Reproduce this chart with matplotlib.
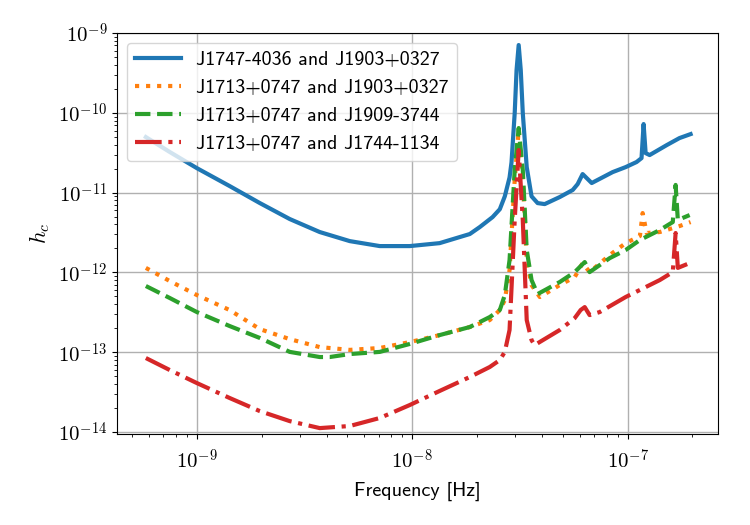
import matplotlib
matplotlib.use("Agg")
import matplotlib.pyplot as plt
from matplotlib.ticker import FuncFormatter, NullFormatter, LogLocator, FixedLocator
import numpy as np

plt.rcParams['mathtext.fontset'] = 'cm'
plt.rcParams['axes.unicode_minus'] = False

# J1747-4036 and J1903+0327
freq_a = [5.80e-10, 7.49e-10, 1.00e-9, 1.42e-9, 1.96e-9, 2.70e-9, 3.72e-9, 5.13e-9,
          7.07e-9, 9.74e-9, 1.34e-8, 1.85e-8, 2.06e-8, 2.36e-8, 2.55e-8, 2.69e-8,
          2.83e-8, 2.89e-8, 2.99e-8, 3.05e-8, 3.12e-8, 3.19e-8, 3.26e-8, 3.40e-8,
          3.58e-8, 3.82e-8, 4.12e-8, 4.84e-8, 5.56e-8, 5.86e-8, 6.18e-8, 6.81e-8,
          8.52e-8, 9.79e-8, 1.10e-7, 1.16e-7, 1.186e-7, 1.212e-7, 1.265e-7, 1.52e-7,
          1.74e-7, 1.96e-7]
hc_a = [4.97e-11, 3.23e-11, 2.03e-11, 1.21e-11, 7.41e-12, 4.67e-12, 3.21e-12, 2.47e-12,
        2.14e-12, 2.14e-12, 2.33e-12, 3.03e-12, 3.71e-12, 4.94e-12, 6.20e-12, 9.00e-12,
        1.55e-11, 2.40e-11, 9.94e-11, 3.44e-10, 7.08e-10, 3.44e-10, 9.94e-11, 2.09e-11,
        9.00e-12, 7.40e-12, 7.19e-12, 8.81e-12, 1.08e-11, 1.28e-11, 1.71e-11, 1.32e-11,
        1.81e-11, 2.09e-11, 2.42e-11, 2.71e-11, 7.24e-11, 3.13e-11, 2.96e-11, 3.95e-11,
        4.83e-11, 5.42e-11]

# J1713+0747 and J1903+0327
freq_b = [5.80e-10, 7.49e-10, 1.00e-9, 1.42e-9, 1.96e-9, 2.70e-9, 3.72e-9, 5.13e-9,
          7.07e-9, 9.74e-9, 1.34e-8, 1.85e-8, 2.29e-8, 2.55e-8, 2.69e-8, 2.83e-8,
          2.99e-8, 3.12e-8, 3.26e-8, 3.40e-8, 3.58e-8, 3.91e-8, 4.84e-8, 5.68e-8,
          6.18e-8, 6.66e-8, 8.25e-8, 9.79e-8, 1.14e-7, 1.174e-7, 1.225e-7, 1.41e-7,
          1.74e-7, 1.96e-7]
hc_b = [1.14e-12, 7.80e-13, 5.21e-13, 3.38e-13, 1.95e-13, 1.46e-13, 1.16e-13, 1.07e-13,
        1.13e-13, 1.34e-13, 1.64e-13, 2.07e-13, 2.53e-13, 3.38e-13, 4.51e-13, 1.07e-12,
        1.44e-11, 6.09e-11, 1.44e-11, 1.43e-12, 6.95e-13, 4.92e-13, 6.95e-13, 8.75e-13,
        1.31e-12, 1.01e-12, 1.65e-12, 2.33e-12, 2.86e-12, 5.55e-12, 3.12e-12, 3.21e-12,
        3.81e-12, 4.28e-12]

# J1713+0747 and J1909-3744
freq_c = [5.80e-10, 7.49e-10, 1.00e-9, 1.42e-9, 1.96e-9, 2.70e-9, 3.72e-9, 4.14e-9,
          5.13e-9, 7.07e-9, 9.74e-9, 1.34e-8, 1.85e-8, 2.29e-8, 2.55e-8, 2.69e-8,
          2.83e-8, 2.99e-8, 3.12e-8, 3.26e-8, 3.40e-8, 3.58e-8, 3.82e-8, 4.84e-8,
          5.68e-8, 6.32e-8, 6.66e-8, 8.25e-8, 9.79e-8, 1.14e-7, 1.41e-7, 1.62e-7,
          1.67e-7, 1.71e-7, 1.94e-7]
hc_c = [6.76e-13, 4.78e-13, 3.19e-13, 2.13e-13, 1.51e-13, 1.01e-13, 8.71e-14, 8.71e-14,
        9.49e-14, 1.01e-13, 1.27e-13, 1.64e-13, 2.07e-13, 2.76e-13, 3.38e-13, 5.21e-13,
        1.43e-12, 1.92e-11, 6.45e-11, 1.92e-11, 1.91e-12, 8.03e-13, 5.36e-13, 7.59e-13,
        1.01e-12, 1.35e-12, 1.01e-12, 1.51e-12, 1.91e-12, 2.55e-12, 3.40e-12, 4.28e-12,
        1.25e-11, 4.54e-12, 5.24e-12]

# J1713+0747 and J1744-1134
freq_d = [5.80e-10, 7.49e-10, 1.00e-9, 1.42e-9, 1.96e-9, 2.70e-9, 3.72e-9, 5.13e-9,
          7.07e-9, 9.74e-9, 1.34e-8, 1.85e-8, 2.29e-8, 2.55e-8, 2.69e-8, 2.83e-8,
          2.99e-8, 3.12e-8, 3.26e-8, 3.40e-8, 3.58e-8, 3.70e-8, 4.84e-8, 5.68e-8,
          6.05e-8, 6.32e-8, 6.66e-8, 7.42e-8, 9.79e-8, 1.41e-7, 1.62e-7, 1.67e-7,
          1.71e-7, 1.94e-7]
hc_d = [8.46e-14, 5.98e-14, 4.11e-14, 2.67e-14, 1.83e-14, 1.37e-14, 1.12e-14, 1.19e-14,
        1.50e-14, 2.18e-14, 3.27e-14, 4.89e-14, 6.53e-14, 7.98e-14, 1.01e-13, 1.90e-13,
        4.54e-12, 3.42e-11, 4.54e-12, 2.53e-13, 1.42e-13, 1.23e-13, 1.90e-13, 2.68e-13,
        3.38e-13, 3.68e-13, 2.92e-13, 3.19e-13, 4.92e-13, 8.03e-13, 1.01e-12, 3.12e-12,
        1.14e-12, 1.31e-12]

labels = ["J1747-4036 and J1903+0327", "J1713+0747 and J1903+0327",
          "J1713+0747 and J1909-3744", "J1713+0747 and J1744-1134"]

x_decades = [1e-9, 1e-8, 1e-7]
y_decades = [1e-14, 1e-13, 1e-12, 1e-11, 1e-10, 1e-9]


def decade_label(v, pos):
    return r"$10^{%d}$" % int(round(np.log10(v)))


fig = plt.figure(figsize=(7.5, 5.25), dpi=100)
ax = fig.add_axes([0.156, 0.173, 0.801, 0.764])

ax.loglog(freq_a, hc_a, '-', lw=3, color='tab:blue', label=labels[0])
ax.loglog(freq_b, hc_b, ':', lw=3, color='tab:orange', label=labels[1])
ax.loglog(freq_c, hc_c, '--', lw=3, color='tab:green', label=labels[2])
ax.loglog(freq_d, hc_d, '-.', lw=3, color='tab:red', label=labels[3])

ax.set_xlim(4.26e-10, 2.62e-7)
ax.set_ylim(9.4e-15, 1e-9)
ax.grid(True, which='major', color='#b0b0b0', lw=1)

ax.xaxis.set_major_locator(FixedLocator(x_decades))
ax.yaxis.set_major_locator(FixedLocator(y_decades))
for axis in (ax.xaxis, ax.yaxis):
    axis.set_major_formatter(FuncFormatter(decade_label))
    axis.set_minor_locator(LogLocator(base=10, subs=np.arange(2, 10), numticks=20))
    axis.set_minor_formatter(NullFormatter())
ax.tick_params(labelsize=15)
ax.tick_params(axis='x', which='major', pad=7)

ax.set_xlabel("Frequency [Hz]", fontfamily='cmss10', fontsize=14.5, labelpad=6)
ax.set_ylabel(r"$h_c$", fontsize=16)

leg = ax.legend(loc='upper left', prop={'family': 'cmss10', 'size': 14.3},
                handlelength=2.3)

fig.savefig("out.png", dpi=100)
